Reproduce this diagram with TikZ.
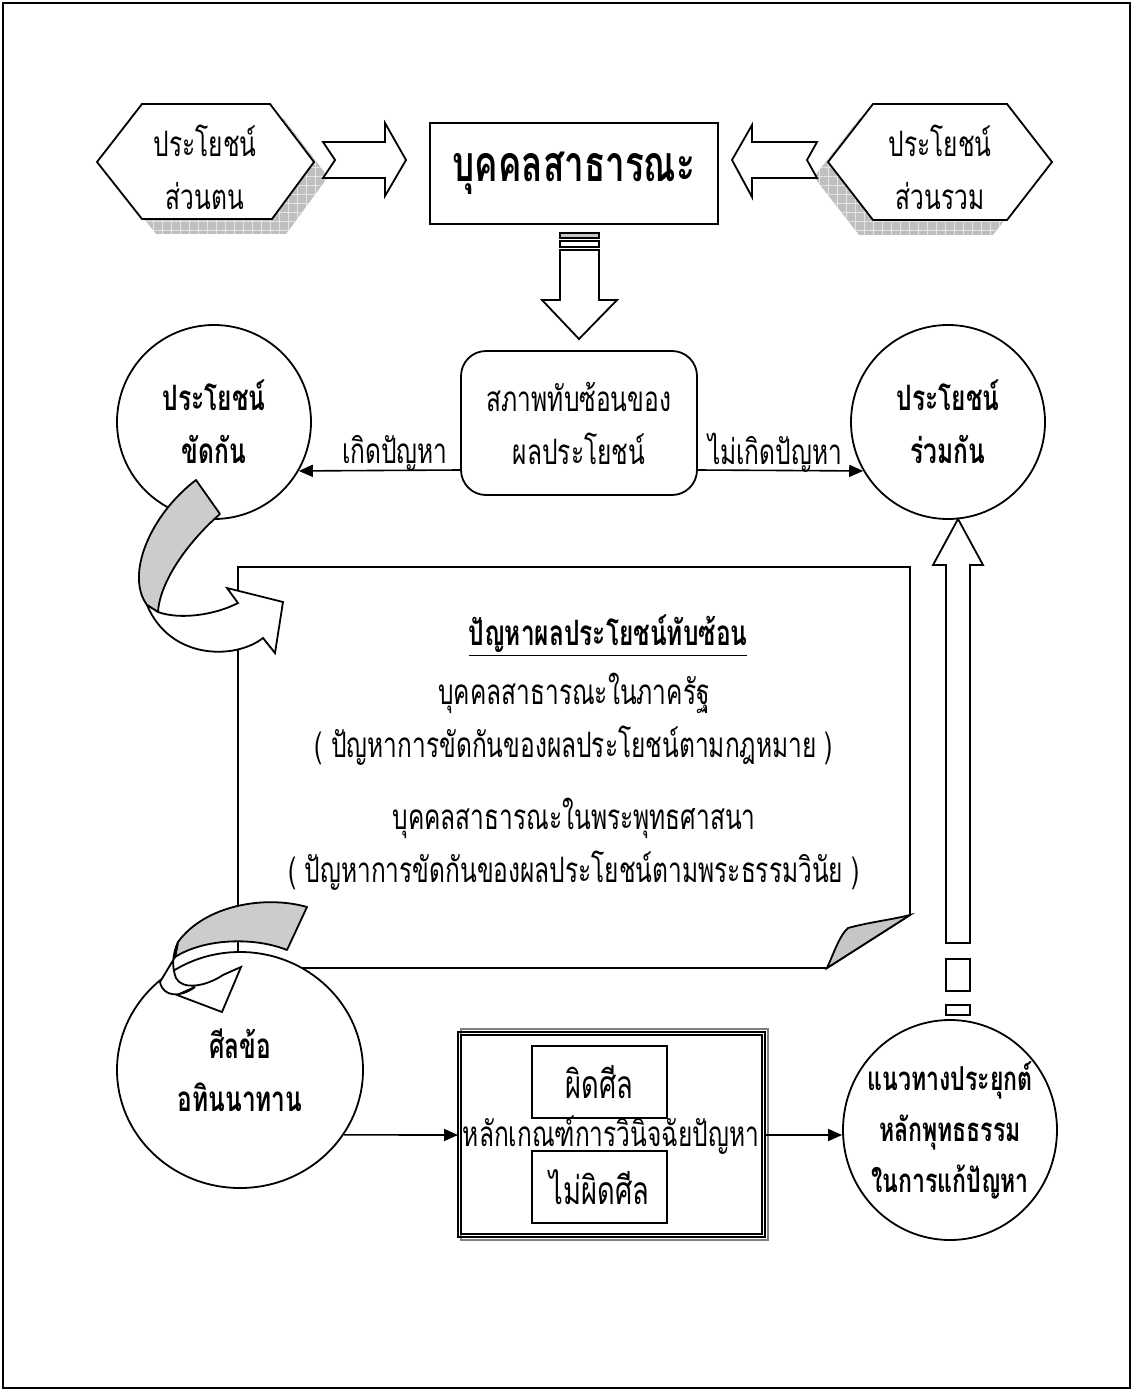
\documentclass[tikz,border=0pt]{standalone}
\usepackage{fontspec}
\setmainfont{Loma}[Script=Thai,FakeStretch=0.70]
\usetikzlibrary{arrows.meta,shapes.geometric,patterns.meta,calc}
\begin{document}
\begin{tikzpicture}[x=0.5pt,y=-0.5pt,
  txt/.style={font=\fontsize{17.5}{26.5}\selectfont, align=center, inner sep=0},
  btxt/.style={font=\fontsize{17.5}{26.5}\selectfont\bfseries, align=center, inner sep=0},
  arr/.style={line width=0.8pt, -{Triangle[length=7pt,width=6pt]}},
  blk/.style={draw, line width=0.9pt, fill=white, line join=miter},
  shadowfill/.style={fill=gray!50, postaction={pattern={Hatch[angle=0,distance=4.5pt,line width=0.4pt]}, pattern color=gray!20}},
  circ/.style={ellipse, draw, line width=0.9pt, fill=white, inner sep=0},
]
\useasboundingbox (0,0) rectangle (1133,1391);
\fill[white] (0,0) rectangle (1133,1391);
\draw[line width=0.9pt] (3,3) rectangle (1130,1388);

% ---- top left hexagon with shadow
\path[shadowfill] (111,177) -- (156,119) -- (284,119) -- (328,177) -- (286,234) -- (156,234) -- cycle;
\draw[blk] (97,162) -- (142,104) -- (270,104) -- (314,162) -- (272,219) -- (142,219) -- cycle;
\node[txt] (hl) at (205,167) {ประโยชน์\\ส่วนตน};

% ---- top right hexagon with shadow
\path[shadowfill] (814,177) -- (859,119) -- (993,119) -- (1038,177) -- (993,235) -- (859,235) -- cycle;
\draw[blk] (828,162) -- (873,104) -- (1007,104) -- (1052,162) -- (1007,220) -- (873,220) -- cycle;
\node[txt] (hr) at (940,167) {ประโยชน์\\ส่วนรวม};

% ---- centre box
\node[draw, line width=0.9pt, minimum width=144pt, minimum height=50.5pt, font=\fontsize{25}{28}\selectfont\bfseries] (pub) at (574,173.5) {บุคคลสาธารณะ};

% ---- block arrows into the centre box
\draw[blk] (323,142) -- (385,142) -- (385,123) -- (406,160) -- (385,196) -- (385,178) -- (323,178) -- (335,160) -- cycle;
\draw[blk] (817,142) -- (752,142) -- (752,125) -- (732,160) -- (752,197) -- (752,178) -- (817,178) -- (807,160) -- cycle;

% ---- down arrow
\draw[line width=0.9pt, fill=gray!45] (560,233) rectangle (599,238);
\draw[line width=0.9pt, fill=white] (560,241) rectangle (599,247);
\draw[blk] (560,250) -- (599,250) -- (599,300) -- (617,300) -- (579,339) -- (542,300) -- (560,300) -- cycle;

% ---- overlapping state box
\node[draw, line width=0.9pt, rounded corners=12.5pt, minimum width=118pt, minimum height=72pt, txt] (ov) at (579,423) {สภาพทับซ้อนของ\\ผลประโยชน์};

% ---- circles top
\node[circ, minimum width=97pt, minimum height=97pt] (lc) at (214,422) {};
\node[btxt] (lct) at (lc.center) {ประโยชน์\\ขัดกัน};
\node[circ, minimum width=97pt, minimum height=97pt] (rc) at (948,422) {};
\node[btxt] (rct) at (rc.center) {ประโยชน์\\ร่วมกัน};

\coordinate (ya) at (0,470);
\draw[arr] (ov.west |- ya) -- (lc.-30);
\draw[arr] (ov.east |- ya) -- (rc.210);
\node[txt] (l1) at (395,453) {เกิดปัญหา};
\node[txt] (l2) at (775,453) {ไม่เกิดปัญหา};

% ---- page with folded corner
\draw[line width=0.9pt, fill=white] (238,567) -- (910,567) -- (910,915) -- (827,968) -- (238,968) -- cycle;
\draw[line width=0.9pt, fill=gray!45] (827,968) .. controls (835,950) and (840,935) .. (848,928) .. controls (870,922) and (890,920) .. (910,915) -- cycle;
\node[btxt] (pt) at (608,636) {\underline{ปัญหาผลประโยชน์ทับซ้อน}};
\node[txt] (p1) at (574,719) {บุคคลสาธารณะในภาครัฐ\\( ปัญหาการขัดกันของผลประโยชน์ตามกฎหมาย )};
\node[txt] (p2) at (574,844) {บุคคลสาธารณะในพระพุทธศาสนา\\( ปัญหาการขัดกันของผลประโยชน์ตามพระธรรมวินัย )};

% ---- curved arrow 1 (circle -> page)
\draw[line width=0.9pt, fill=gray!40, line join=round] (196,480) -- (220,514) .. controls (190,540) and (160,580) .. (158,612) -- (147,605) .. controls (125,575) and (150,515) .. (196,480) -- cycle;
\draw[line width=0.9pt, fill=white, line join=miter] (158,612) .. controls (180,620) and (215,615) .. (238,603) -- (227,588) -- (283,602) -- (275,653) -- (263,638) .. controls (235,660) and (170,660) .. (147,605) -- cycle;

% ---- bottom row
\node[circ, minimum width=123pt, minimum height=118pt] (bl) at (240,1070) {};
\node[btxt] (blt) at (bl.center) {ศีลข้อ\\อทินนาทาน};
\node[circ, minimum width=107pt, minimum height=110pt] (br) at (950,1130) {};
\node[btxt, font=\fontsize{16.5}{25.5}\selectfont\bfseries] (brt) at (br.center) {แนวทางประยุกต์\\หลักพุทธธรรม\\ในการแก้ปัญหา};

% curved arrow 2 (page -> circle)
\draw[line width=0.9pt, fill=gray!40, line join=round] (178,942) .. controls (205,905) and (265,895) .. (307,907) -- (287,950) .. controls (255,937) and (205,938) .. (175,957) -- cycle;
\draw[line width=0.9pt, fill=white, line join=miter] (175,957) -- (160,982) .. controls (163,997) and (180,998) .. (195,987) -- (177,995) -- (222,1012) -- (241,967) -- (223,975) .. controls (205,987) and (182,990) .. (176,978) .. controls (172,968) and (172,955) .. (178,942) -- cycle;

% decision box
\draw[line width=0.9pt, draw=gray] (461,1029) rectangle (768,1240);
\draw[line width=0.9pt] (458,1032) rectangle (765,1237);
\draw[line width=0.9pt] (461,1035) rectangle (762,1234);
\node[draw, line width=0.9pt, minimum width=67.5pt, minimum height=36pt, font=\fontsize{19.5}{22}\selectfont] (g1) at (599.5,1082) {ผิดศีล};
\node[txt] (crit) at (611,1135) {หลักเกณฑ์การวินิจฉัยปัญหา};
\node[draw, line width=0.9pt, minimum width=67.5pt, minimum height=36pt, font=\fontsize{19.5}{22}\selectfont] (g2) at (599.5,1187) {ไม่ผิดศีล};
\coordinate (dl) at (458,1135);
\coordinate (dr) at (765,1135);
\draw[arr] (bl.-32) -- (dl);
\draw[arr] (dr) -- (br.west |- dr);

% up arrow with broken tail
\draw[line width=0.9pt] (946,1005) rectangle (970,1015);
\draw[line width=0.9pt] (946,959) rectangle (970,991);
\draw[blk] (946,943) -- (946,565) -- (933,565) -- (958,519) -- (983,565) -- (970,565) -- (970,943) -- cycle;
\end{tikzpicture}
\end{document}
